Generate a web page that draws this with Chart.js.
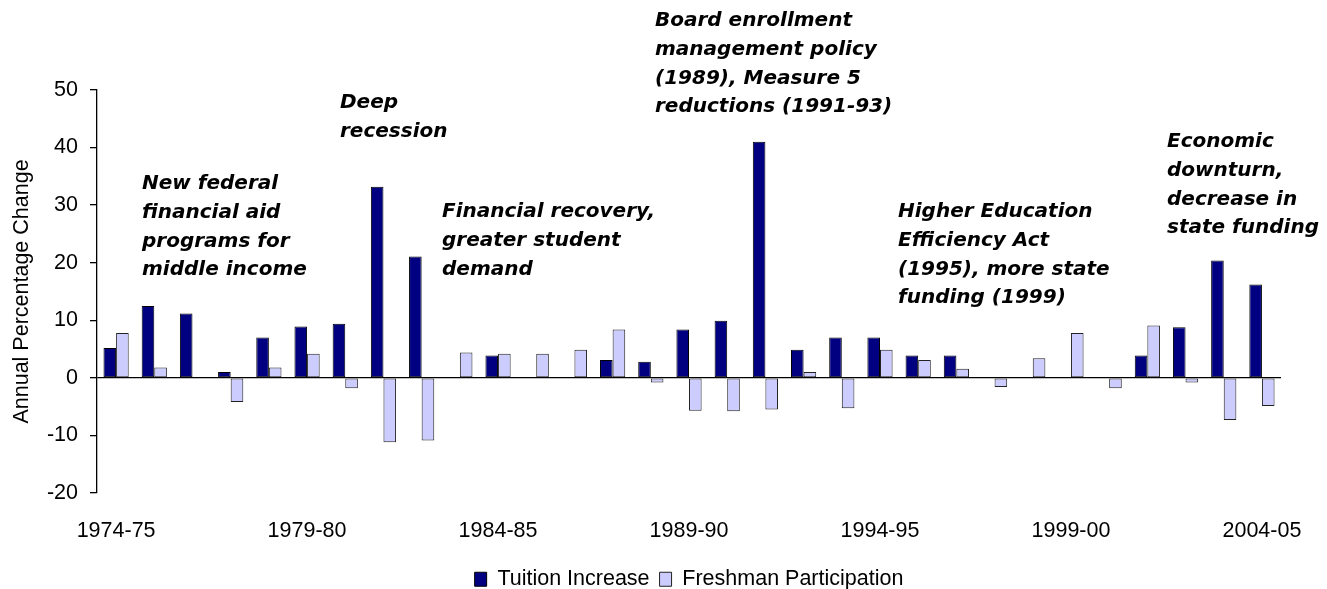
<!DOCTYPE html>
<html>
<head>
    <title>Tuition Increase vs Freshman Participation</title>
    <script src="https://cdn.jsdelivr.net/npm/chart.js"></script>
    <style>
        html, body { margin: 0; padding: 0; background: #fff; }
        #wrap { width: 1327px; height: 589px; }
    </style>
</head>
<body>
<div id="wrap"><canvas id="tuitionChart"></canvas></div>

<script>
    const years = [
        '1974-75', '1975-76', '1976-77', '1977-78', '1978-79',
        '1979-80', '1980-81', '1981-82', '1982-83', '1983-84',
        '1984-85', '1985-86', '1986-87', '1987-88', '1988-89',
        '1989-90', '1990-91', '1991-92', '1992-93', '1993-94',
        '1994-95', '1995-96', '1996-97', '1997-98', '1998-99',
        '1999-00', '2000-01', '2001-02', '2002-03', '2003-04',
        '2004-05'
    ];
    const tuitionIncrease = [
        5.2, 12.5, 11.2, 1.0, 7.0, 8.9, 9.4, 33.2, 21.1, 0,
        3.9, 0, 0, 3.1, 2.8, 8.4, 9.9, 41.0, 4.9, 7.0,
        7.0, 3.9, 3.9, 0, 0, 0, 0, 3.9, 8.8, 20.4,
        16.2
    ];
    const freshmanParticipation = [
        7.8, 1.8, 0, -4.2, 1.8, 4.2, -1.8, -11.2, -10.9, 4.4,
        4.2, 4.2, 4.9, 8.4, -0.8, -5.7, -5.8, -5.5, 1.0, -5.3,
        4.9, 3.1, 1.6, -1.6, 3.4, 7.8, -1.8, 9.1, -0.8, -7.3,
        -4.9
    ];
    const yTicks = [-20, -10, 0, 10, 20, 30, 40, 50];

    // annotation blocks: left x, first line centre y, lines
    const notes = [
        { x: 142, y: 184, lines: ['New federal', 'financial aid', 'programs for', 'middle income'] },
        { x: 340, y: 103, lines: ['Deep', 'recession'] },
        { x: 442, y: 212, lines: ['Financial recovery,', 'greater student', 'demand'] },
        { x: 655, y: 21, lines: ['Board enrollment', 'management policy', '(1989), Measure 5', 'reductions (1991-93)'] },
        { x: 898, y: 212, lines: ['Higher Education', 'Efficiency Act', '(1995), more state', 'funding (1999)'] },
        { x: 1167, y: 142, lines: ['Economic', 'downturn,', 'decrease in', 'state funding'] }
    ];

    const notesPlugin = {
        id: 'notes',
        afterDraw(chart) {
            const ctx = chart.ctx;
            ctx.save();
            ctx.fillStyle = '#000';
            ctx.font = 'italic bold 20px "DejaVu Sans"';
            ctx.textAlign = 'left';
            ctx.textBaseline = 'middle';
            notes.forEach(n => {
                n.lines.forEach((line, i) => {
                    ctx.fillText(line, n.x, n.y + i * 28.7);
                });
            });
            ctx.restore();
        }
    };

    const font = { family: '"Liberation Sans", Arial, sans-serif', size: 21.5 };

    const ctx = document.getElementById('tuitionChart').getContext('2d');
    new Chart(ctx, {
        type: 'bar',
        data: {
            labels: years,
            datasets: [{
                label: 'Tuition Increase',
                data: tuitionIncrease,
                backgroundColor: '#000080',
                borderColor: '#000000',
                borderWidth: 1,
                borderSkipped: false
            }, {
                label: 'Freshman Participation',
                data: freshmanParticipation,
                backgroundColor: '#CCCCFF',
                borderColor: '#222222',
                borderWidth: 1,
                borderSkipped: false
            }]
        },
        options: {
            responsive: true,
            maintainAspectRatio: false,
            animation: false,
            categoryPercentage: 0.66,
            barPercentage: 1.0,
            // negative bottom padding pulls the legend down to the canvas edge
            layout: { padding: { top: 90, right: 38, left: 0, bottom: -11 } },
            plugins: {
                legend: {
                    position: 'bottom',
                    fullSize: false,
                    labels: {
                        font: font,
                        color: '#000',
                        boxWidth: 12,
                        boxHeight: 14,
                        padding: 10
                    }
                },
                tooltip: { enabled: false }
            },
            scales: {
                x: {
                    grid: { display: false, drawTicks: false },
                    border: { display: false },
                    ticks: {
                        font: font,
                        color: '#000',
                        autoSkip: false,
                        maxRotation: 0,
                        padding: 25,
                        callback: function (value, index) {
                            return index % 5 === 0 ? years[index] : '';
                        }
                    },
                    afterFit(scale) { scale.height = 65.5; }
                },
                y: {
                    min: -20,
                    max: 50,
                    afterBuildTicks(scale) {
                        scale.ticks = yTicks.map(v => ({ value: v }));
                    },
                    grid: {
                        color: c => (c.tick && c.tick.value === 0) ? '#000' : 'rgba(0,0,0,0)',
                        tickColor: '#000',
                        tickLength: 7,
                        lineWidth: 1.3
                    },
                    border: { display: true, color: '#000', width: 1.3 },
                    ticks: { font: font, color: '#000', padding: 12 },
                    title: {
                        display: true,
                        text: 'Annual Percentage Change',
                        font: font,
                        color: '#000',
                        padding: { top: 9, bottom: 0 }
                    },
                    afterFit(scale) { scale.width = 97; }
                }
            }
        },
        plugins: [notesPlugin]
    });
</script>
</body>
</html>
